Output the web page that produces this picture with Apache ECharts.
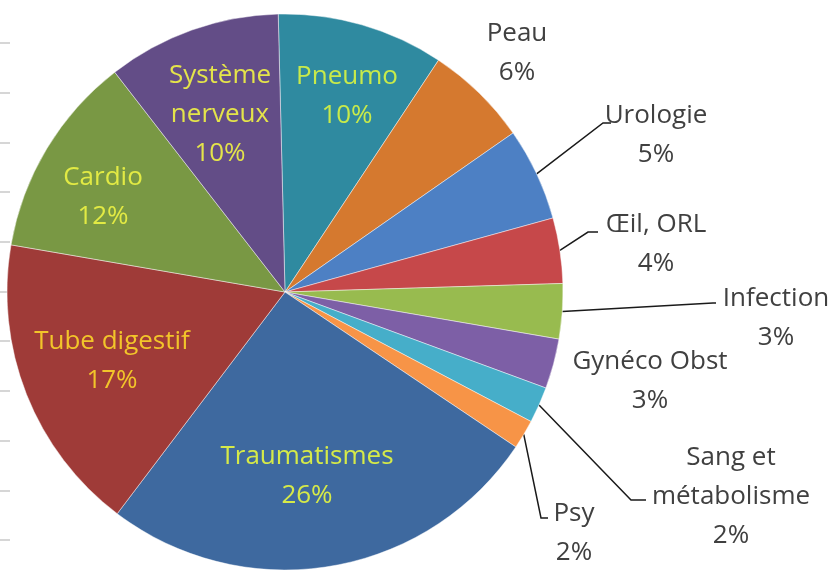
<!DOCTYPE html>
<html>
<head>
<meta charset="utf-8">
<script src="https://cdn.jsdelivr.net/npm/echarts@6/dist/echarts.min.js"></script>
<style>
  html, body { margin: 0; padding: 0; background: #fff; }
  #chart { width: 839px; height: 577px; }
</style>
</head>
<body>
<div id="chart"></div>
<script>
// slices, clockwise from the top
const categories = ['Pneumo', 'Peau', 'Urologie', 'Œil, ORL', 'Infection', 'Gynéco Obst',
  'Sang et\nmétabolisme', 'Psy', 'Traumatismes', 'Tube digestif', 'Cardio', 'Système\nnerveux']
const values = [9.7, 6.0, 5.4, 3.8, 3.2, 2.9, 2.1, 1.7, 25.9, 17.4, 11.8, 10.1]

// left-edge tick marks (leftover axis of the cropped picture)
const tickValues = [0, 1, 2, 3, 4, 5, 6, 7, 8, 9, 10]

const sliceColors = ['#2f8aa0', '#d5792f', '#4d80c4', '#c6484a', '#98bb4f', '#7d5fa6',
  '#46aec9', '#f79447', '#3e699f', '#9f3b38', '#799844', '#634d87']
const textColors = ['#c8ea4a', '#404040', '#404040', '#404040', '#404040', '#404040',
  '#404040', '#404040', '#d6ea48', '#f2c52a', '#e2ea44', '#e4e44a']

// where each label block sits, and the leader line bends (null = no line)
const labelPos = [
  { x: 347, y: 96, inside: true }, { x: 517, y: 53 },
  { x: 656, y: 135, line: [[603, 123], [611, 123]] },
  { x: 656, y: 244, line: [[588, 232], [598, 232]] },
  { x: 776, y: 318, line: [[713, 303], [716, 303]] },
  { x: 650, y: 381 },
  { x: 731, y: 497, line: [[631, 500], [646, 500]] },
  { x: 574, y: 533, line: [[541, 518], [548, 518]] },
  { x: 307, y: 476, inside: true }, { x: 112, y: 361, inside: true },
  { x: 103, y: 197, inside: true }, { x: 220, y: 115, inside: true }
]

const chart = echarts.init(document.getElementById('chart'))

const pieData = categories.map((name, i) => ({
  name,
  value: values[i],
  itemStyle: { color: sliceColors[i] },
  label: { color: textColors[i], position: labelPos[i].inside ? 'inside' : 'outside' },
  labelLine: { show: !!labelPos[i].line }
}))

chart.setOption({
  backgroundColor: '#ffffff',
  animation: false,
  grid: { left: 10, top: 43, bottom: 37, width: 20 },
  xAxis: { type: 'value', show: false },
  yAxis: {
    type: 'value',
    min: tickValues[0],
    max: tickValues[tickValues.length - 1],
    interval: 1,
    axisLine: { show: false },
    axisLabel: { show: false },
    splitLine: { show: false },
    axisTick: { show: true, length: 10, lineStyle: { color: '#d6d6d6', width: 2 } }
  },
  series: [{
    type: 'pie',
    center: [285, 292],
    radius: 278,
    startAngle: 91.4,
    clockwise: true,
    z: 3,
    avoidLabelOverlap: false,
    itemStyle: { borderColor: 'rgba(255,255,255,0.45)', borderWidth: 1 },
    label: {
      show: true,
      position: 'outside',
      fontFamily: 'Open Sans',
      fontSize: 26,
      lineHeight: 39,
      formatter: p => p.name + '\n' + Math.round(p.percent) + '%'
    },
    labelLine: { show: true, lineStyle: { color: '#1a1a1a', width: 1.5 } },
    labelLayout: params => {
      const pos = labelPos[params.dataIndex]
      const out = { x: pos.x, y: pos.y, align: 'center', verticalAlign: 'middle' }
      if (pos.line && params.labelLinePoints) {
        out.labelLinePoints = [params.labelLinePoints[0], pos.line[0], pos.line[1]]
      }
      return out
    },
    data: pieData
  }]
})
</script>
</body>
</html>
